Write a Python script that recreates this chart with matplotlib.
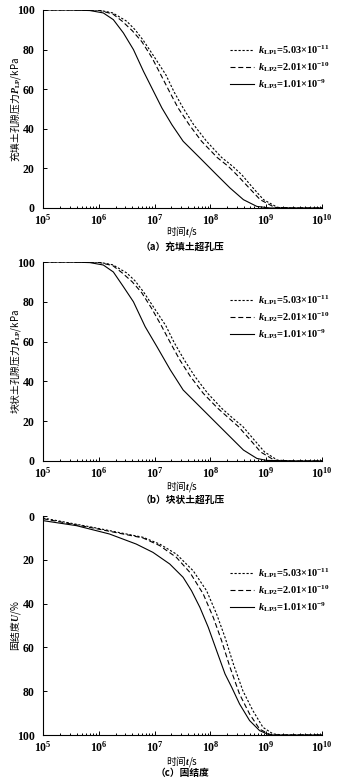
import numpy as np
import matplotlib
matplotlib.use("Agg")
import matplotlib.pyplot as plt
from matplotlib.ticker import LogLocator, NullFormatter

plt.rcParams['font.family'] = ['Liberation Serif', 'Noto Sans CJK SC']
plt.rcParams['font.weight'] = 'bold'
plt.rcParams['mathtext.fontset'] = 'custom'
plt.rcParams['mathtext.rm'] = 'Liberation Serif'
plt.rcParams['mathtext.it'] = 'Liberation Serif:italic'
plt.rcParams['mathtext.bf'] = 'Liberation Serif:bold'

# values; x given as log10(t / s)

# (a) filling soil excess pore pressure, kPa
a1_x = [5, 5.5, 6.0, 6.25, 6.5, 6.65, 6.8, 7.0, 7.2, 7.35, 7.51, 7.7, 7.93, 8.2, 8.4, 8.56, 8.75, 8.95, 9.2, 9.5, 10]
a1_y = [100, 100, 99.9, 98.5, 94.3, 90, 84.5, 76, 67.3, 58.5, 50.5, 42, 33.7, 25.5, 21, 16.8, 10.5, 4.2, 0.3, 0, 0]
a2_x = [5, 5.5, 6.0, 6.25, 6.42, 6.6, 6.77, 6.95, 7.11, 7.27, 7.42, 7.62, 7.84, 8.12, 8.32, 8.47, 8.68, 8.89, 9.15, 9.5, 10]
a2_y = [100, 100, 99.8, 98, 94.3, 89.5, 84, 76, 67.3, 58.5, 50.5, 42, 33.7, 25.5, 21, 16.8, 10.5, 4.2, 0.3, 0, 0]
a3_x = [5, 5.5, 5.84, 6.08, 6.26, 6.44, 6.62, 6.8, 6.98, 7.13, 7.31, 7.51, 7.81, 8.11, 8.35, 8.59, 8.83, 9.07, 9.5, 10]
a3_y = [100, 100, 99.7, 98.5, 95.1, 88.4, 80, 69, 58.9, 50.5, 42, 33.7, 25.3, 16.8, 10.1, 4.2, 0.8, 0, 0, 0]

# (b) block soil excess pore pressure, kPa
b1_x = [5, 5.5, 6.0, 6.25, 6.5, 6.65, 6.8, 7.0, 7.2, 7.35, 7.53, 7.72, 7.95, 8.2, 8.4, 8.58, 8.77, 8.97, 9.2, 9.5, 10]
b1_y = [100, 100, 99.9, 98.6, 94.5, 90.5, 85, 76.5, 68, 59.5, 50.8, 42.5, 34, 26.5, 21.5, 17.3, 11, 4.5, 0.4, 0, 0]
b2_x = [5, 5.5, 6.0, 6.25, 6.42, 6.6, 6.77, 6.95, 7.12, 7.28, 7.45, 7.64, 7.87, 8.13, 8.33, 8.5, 8.7, 8.9, 9.15, 9.5, 10]
b2_y = [100, 100, 99.8, 98.2, 94.5, 90, 84.5, 76.5, 68, 59.5, 50.8, 42.5, 34, 26.5, 21.5, 17.3, 11, 4.5, 0.3, 0, 0]
b3_x = [5, 5.5, 5.84, 6.08, 6.26, 6.44, 6.62, 6.83, 7.04, 7.28, 7.51, 7.81, 8.11, 8.35, 8.59, 8.83, 9.0, 9.5, 10]
b3_y = [100, 100, 99.7, 98.5, 95, 87.6, 80, 67.5, 57.5, 45.8, 35.7, 27.3, 18.9, 12.2, 5.5, 1.3, 0.3, 0, 0]

# (c) degree of consolidation, %
c1_x = [5, 5.9, 6.79, 7.09, 7.39, 7.69, 7.93, 8.11, 8.26, 8.41, 8.58, 8.76, 8.94, 9.12, 9.3, 10]
c1_y = [0.9, 5.2, 9.7, 12.8, 17.4, 25, 34.1, 44.8, 55.4, 67.6, 79.8, 88.9, 96.5, 99.5, 100, 100]
c2_x = [5, 5.9, 6.79, 7.09, 7.39, 7.63, 7.87, 8.05, 8.2, 8.35, 8.52, 8.7, 8.88, 9.06, 9.24, 10]
c2_y = [1.2, 5.5, 10, 13.5, 18.9, 25.7, 35.6, 46.3, 57, 69.1, 81.3, 90.4, 97.3, 99.7, 100, 100]
c3_x = [5, 5.6, 6.19, 6.67, 6.97, 7.27, 7.51, 7.66, 7.81, 7.96, 8.11, 8.26, 8.38, 8.52, 8.7, 8.88, 9.06, 10]
c3_y = [2.1, 4.4, 8.2, 12.8, 16.6, 21.9, 28, 34.1, 41.7, 50.8, 61.5, 72.1, 78.2, 85.8, 93.4, 98, 100, 100]

labels = [r'$k_{\rm LP1}$=5.03×10$^{-11}$',
          r'$k_{\rm LP2}$=2.01×10$^{-10}$',
          r'$k_{\rm LP3}$=1.01×10$^{-9}$']
styles = [(0, (2, 1.6)), (0, (4.5, 2.5)), '-']

cjk = ['Noto Sans CJK SC', 'Liberation Serif']

fig = plt.figure(figsize=(3.57, 7.84), dpi=100)
L, W = 0.1204, 0.782
ax_a = fig.add_axes([L, 0.7347, W, 0.2526])
ax_b = fig.add_axes([L, 0.4120, W, 0.2538])
ax_c = fig.add_axes([L, 0.0625, W, 0.2793])

panels = [
    (ax_a, [(a1_x, a1_y), (a2_x, a2_y), (a3_x, a3_y)],
     r'充填土孔隙压力$P_{\rm LP}$/kPa', '（a）充填土超孔压', 0.71, -0.121, -0.197),
    (ax_b, [(b1_x, b1_y), (b2_x, b2_y), (b3_x, b3_y)],
     r'块状土孔隙压力$P_{\rm LP}$/kPa', '（b）块状土超孔压', 0.724, -0.126, -0.196),
    (ax_c, [(c1_x, c1_y), (c2_x, c2_y), (c3_x, c3_y)],
     r'固结度$U$/%', '（c）固结度', 0.662, -0.123, -0.174),
]

for ax, series, ylab, cap, ly, xl_y, cap_y in panels:
    for (xs, ys), ls, lab in zip(series, styles, labels):
        ax.plot(10.0 ** np.array(xs), ys, color='black', lw=0.8, ls=ls, label=lab)
    ax.set_xscale('log')
    ax.set_xlim(1e5, 1e10)
    ax.set_ylim(0, 100)
    ax.set_yticks([0, 20, 40, 60, 80, 100])
    ax.xaxis.set_major_locator(LogLocator(base=10, numticks=10))
    ax.xaxis.set_minor_locator(LogLocator(base=10, subs=np.arange(2, 10), numticks=20))
    ax.xaxis.set_minor_formatter(NullFormatter())
    ax.spines['top'].set_visible(False)
    ax.spines['right'].set_visible(False)
    ax.tick_params(which='both', direction='in', labelsize=8.5, width=0.7)
    ax.tick_params(which='major', length=3)
    ax.tick_params(axis='x', which='major', pad=3.5)
    ax.tick_params(axis='y', which='major', pad=6)
    ax.tick_params(which='minor', length=1.8)
    for lbl in ax.get_xticklabels() + ax.get_yticklabels():
        lbl.set_fontweight('bold')
    ax.set_ylabel(ylab, family=cjk, fontsize=7)
    ax.yaxis.set_label_coords(-0.1, 0.5)
    ax.yaxis.label.set_va('center')
    ax.set_xlabel(r'时间$t$/s', family=cjk, fontsize=7)
    ax.xaxis.set_label_coords(0.5, xl_y)
    ax.xaxis.label.set_va('center')
    ax.text(0.5, cap_y, cap, transform=ax.transAxes,
            ha='center', va='center', family=cjk, fontsize=7)
    ax.legend(loc='center right', bbox_to_anchor=(1.06, ly), frameon=False,
              fontsize=7.5, handlelength=2.3, handletextpad=0.4, labelspacing=0.3)

ax_c.invert_yaxis()

fig.savefig('out.png', dpi=100)
